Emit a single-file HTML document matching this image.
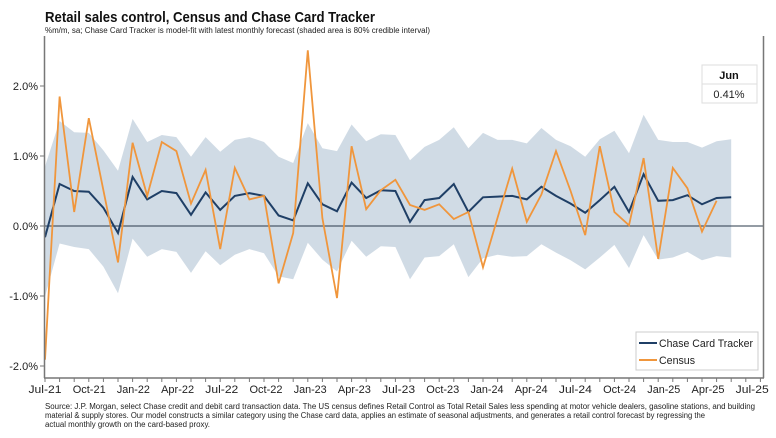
<!DOCTYPE html>
<html><head><meta charset="utf-8"><style>
body{margin:0;background:#fff;width:776px;height:433px;overflow:hidden;font-family:"Liberation Sans",sans-serif}
</style></head><body>
<svg id="s" width="776" height="433" xmlns="http://www.w3.org/2000/svg" font-family="Liberation Sans, sans-serif">
<text x="45" y="22" font-size="15" font-weight="bold" fill="#111" textLength="330" lengthAdjust="spacingAndGlyphs">Retail sales control, Census and Chase Card Tracker</text>
<text x="45" y="33" font-size="8" fill="#222" textLength="385" lengthAdjust="spacingAndGlyphs">%m/m, sa; Chase Card Tracker is model-fit with latest monthly forecast (shaded area is 80% credible interval)</text>
<g id="plot"></g>
<line x1="44.5" y1="36" x2="44.5" y2="378" stroke="#777" stroke-width="1.5"/>
<line x1="763.5" y1="36" x2="763.5" y2="378" stroke="#777" stroke-width="1.5"/>
<line x1="44" y1="378" x2="764" y2="378" stroke="#777" stroke-width="1.5"/>
<g font-size="11" fill="#222" text-anchor="end">
<text x="38" y="90">2.0%</text><text x="38" y="160">1.0%</text><text x="38" y="230">0.0%</text><text x="38" y="300">-1.0%</text><text x="38" y="370">-2.0%</text>
</g>
<g stroke="#777" stroke-width="1">
<line x1="40" y1="86" x2="44" y2="86"/><line x1="40" y1="156" x2="44" y2="156"/><line x1="40" y1="226" x2="44" y2="226"/><line x1="40" y1="296" x2="44" y2="296"/><line x1="40" y1="366" x2="44" y2="366"/>
</g>
<g id="xt"></g>
<rect x="702" y="65" width="55" height="38" fill="#fff" stroke="#ddd"/>
<line x1="702" y1="84" x2="757" y2="84" stroke="#ddd"/>
<text x="729" y="79" font-size="11" font-weight="bold" text-anchor="middle" fill="#111">Jun</text>
<text x="729" y="98" font-size="11" text-anchor="middle" fill="#222">0.41%</text>
<rect x="636" y="332" width="122" height="38" fill="#fff" stroke="#ccc"/>
<line x1="639" y1="343" x2="657" y2="343" stroke="#1f3f66" stroke-width="2"/>
<line x1="639" y1="360" x2="657" y2="360" stroke="#f0963c" stroke-width="2"/>
<text x="659" y="347" font-size="11" fill="#222" textLength="94" lengthAdjust="spacingAndGlyphs">Chase Card Tracker</text>
<text x="659" y="364" font-size="11" fill="#222" textLength="36" lengthAdjust="spacingAndGlyphs">Census</text>
<g font-size="8" fill="#222">
<text x="45" y="409" textLength="710" lengthAdjust="spacingAndGlyphs">Source: J.P. Morgan, select Chase credit and debit card transaction data. The US census defines Retail Control as Total Retail Sales less spending at motor vehicle dealers, gasoline stations, and building</text>
<text x="45" y="418" textLength="660" lengthAdjust="spacingAndGlyphs">material &amp; supply stores. Our model constructs a similar category using the Chase card data, applies an estimate of seasonal adjustments, and generates a retail control forecast by regressing the</text>
<text x="45" y="427" textLength="165" lengthAdjust="spacingAndGlyphs">actual monthly growth on the card-based proxy.</text>
</g>
</svg>
<script>
var tr=[-0.16,0.60,0.50,0.49,0.26,-0.10,0.70,0.38,0.50,0.47,0.16,0.48,0.23,0.43,0.47,0.43,0.15,0.08,0.61,0.31,0.21,0.62,0.40,0.51,0.50,0.06,0.37,0.40,0.60,0.20,0.41,0.42,0.43,0.38,0.56,0.43,0.32,0.19,0.37,0.56,0.20,0.74,0.36,0.37,0.44,0.31,0.40,0.41];
var ce=[-1.91,1.85,0.20,1.54,0.51,-0.52,1.19,0.43,1.20,1.07,0.32,0.80,-0.33,0.83,0.38,0.43,-0.82,-0.10,2.51,0.11,-1.03,1.14,0.24,0.51,0.66,0.30,0.23,0.31,0.10,0.20,-0.59,0.12,0.82,0.06,0.45,1.07,0.50,-0.13,1.14,0.20,0.01,0.97,-0.47,0.83,0.54,-0.08,0.36];
var up=[0.85,1.50,1.34,1.33,1.08,0.79,1.53,1.20,1.30,1.27,0.99,1.27,1.06,1.23,1.27,1.20,0.99,0.90,1.47,1.11,1.07,1.45,1.21,1.31,1.30,0.94,1.13,1.23,1.41,1.11,1.33,1.23,1.23,1.18,1.40,1.23,1.14,0.99,1.24,1.36,1.04,1.59,1.23,1.20,1.20,1.12,1.21,1.24];
var lo=[-1.01,-0.25,-0.30,-0.33,-0.58,-0.96,-0.18,-0.44,-0.33,-0.37,-0.67,-0.36,-0.56,-0.41,-0.33,-0.39,-0.72,-0.76,-0.24,-0.48,-0.65,-0.21,-0.44,-0.29,-0.30,-0.76,-0.45,-0.43,-0.26,-0.73,-0.46,-0.41,-0.44,-0.43,-0.26,-0.38,-0.49,-0.62,-0.45,-0.27,-0.60,-0.13,-0.48,-0.45,-0.37,-0.49,-0.43,-0.45];
var dx=14.6;function X(m){return 45+dx*m}function Y(v){return 226-70*v}
function pts(a){return a.map(function(v,i){return X(i).toFixed(1)+','+Y(v).toFixed(1)}).join(' ')}
var band=pts(up)+' '+lo.map(function(v,i){return X(i).toFixed(1)+','+Y(v).toFixed(1)}).reverse().join(' ');
var h='<polygon points="'+band+'" fill="#d0dbe5"/>';
h+='<line x1="44" y1="226" x2="764" y2="226" stroke="#2a3a4a" stroke-width="1"/>';
h+='<polyline points="'+pts(tr)+'" fill="none" stroke="#1f3f66" stroke-width="2"/>';
h+='<polyline points="'+pts(ce)+'" fill="none" stroke="#f0963c" stroke-width="1.8"/>';
document.getElementById('plot').innerHTML=h;
var L=['Jul-21','Oct-21','Jan-22','Apr-22','Jul-22','Oct-22','Jan-23','Apr-23','Jul-23','Oct-23','Jan-24','Apr-24','Jul-24','Oct-24','Jan-25','Apr-25','Jul-25'];
var t='';for(var m=0;m<=49;m++){t+='<line x1="'+X(m)+'" y1="378" x2="'+X(m)+'" y2="382" stroke="#777"/>';}
L.forEach(function(s,i){t+='<text x="'+(X(i*3)+i*0.4)+'" y="393" font-size="11" text-anchor="middle" fill="#222" textLength="33" lengthAdjust="spacingAndGlyphs">'+s+'</text>'});
document.getElementById('xt').innerHTML=t;
</script>
</body></html>
